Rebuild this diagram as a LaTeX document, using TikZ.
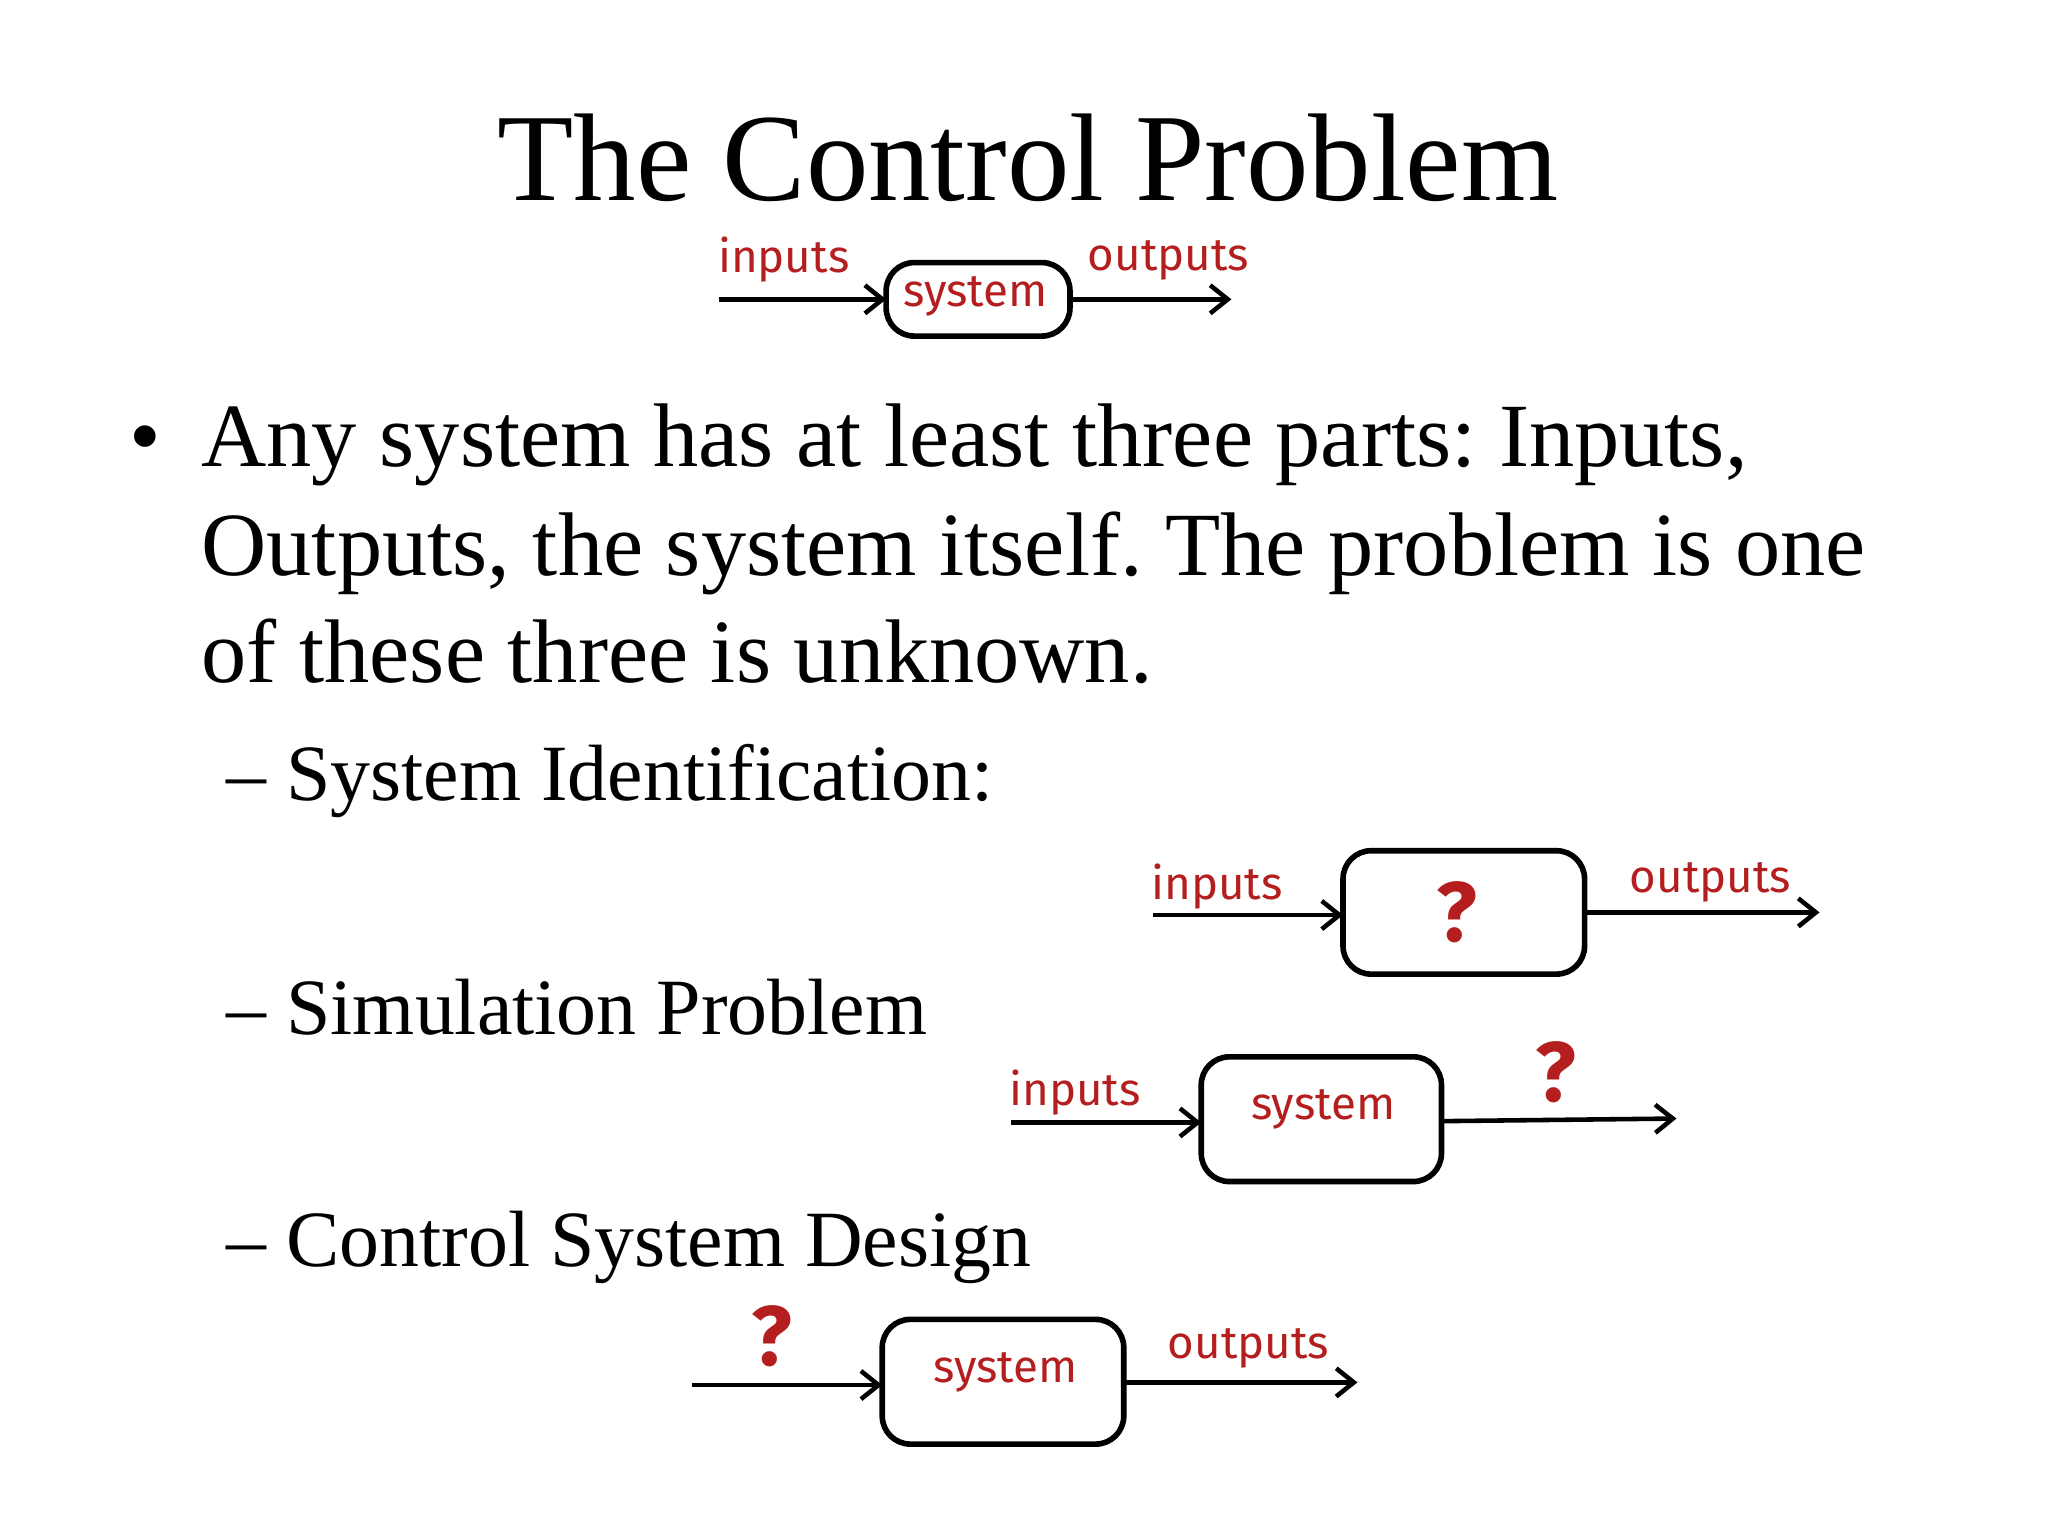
\documentclass[tikz,border=0pt]{standalone}
\usepackage{fontspec}
\setmainfont{Liberation Serif}
\newfontfamily\handfont{Fira Sans}
\usetikzlibrary{arrows.meta}
\definecolor{hred}{RGB}{180,30,30}
\frenchspacing
\begin{document}
\begin{tikzpicture}[x=0.01313cm,y=-0.01313cm,
  sysbox/.style={draw,line width=1.6pt,rounded corners=8pt},
  arr/.style={-{Straight Barb[length=5pt,width=8pt]},line width=1.3pt},
  hw/.style={text=hred,font=\handfont\fontsize{13}{13}\selectfont},
  hwq/.style={text=hred,font=\handfont\bfseries\fontsize{24}{24}\selectfont},
  body/.style={anchor=base west,inner sep=0pt,font=\fontsize{25.7}{28}\selectfont},
  subbody/.style={anchor=base west,inner sep=0pt,font=\fontsize{22.7}{25}\selectfont}]
\useasboundingbox (0,0) rectangle (1560,1170);
\node[font=\fontsize{35.5}{36}\selectfont] (title) at (783,120) {The Control Problem};
% diagram 1
\draw[sysbox] (675,200) rectangle (815,256);
\node[hw] (s1) at (743,226) {system};
\node[hw] (i1) at (597,198) {inputs};
\node[hw] (o1) at (890,198) {outputs};
\coordinate (a1) at (548,228); \coordinate (b1) at (675,228);
\coordinate (c1) at (815,228); \coordinate (d1) at (938,228);
\draw[arr] (a1) -- (b1); \draw[arr] (c1) -- (d1);
% bullets
\node[body] (bul) at (98,355) {•};
\node[body] (l1) at (153,355) {Any system has at least three parts: Inputs,};
\node[body] (l2) at (153,438) {Outputs, the system itself. The problem is one};
\node[body] (l3) at (153,520) {of these three is unknown.};
\node[subbody] (sA) at (172,610) {– System Identification:};
\node[subbody] (sB) at (172,788) {– Simulation Problem};
\node[subbody] (sC) at (172,965) {– Control System Design};
% diagram 2
\draw[sysbox] (1023,648) rectangle (1207,742);
\node[hwq] (q2) at (1110,695) {?};
\node[hw] (i2) at (927,675) {inputs};
\node[hw] (o2) at (1303,672) {outputs};
\coordinate (a2) at (878,697); \coordinate (b2) at (1023,697);
\coordinate (c2) at (1207,695); \coordinate (d2) at (1386,695);
\draw[arr] (a2) -- (b2); \draw[arr] (c2) -- (d2);
% diagram 3
\draw[sysbox] (915,805) rectangle (1098,900);
\node[hw] (s3) at (1008,845) {system};
\node[hw] (i3) at (819,832) {inputs};
\node[hwq] (q3) at (1185,817) {?};
\coordinate (a3) at (770,855); \coordinate (b3) at (915,855);
\coordinate (c3) at (1098,854); \coordinate (d3) at (1277,852);
\draw[arr] (a3) -- (b3); \draw[arr] (c3) -- (d3);
% diagram 4
\draw[sysbox] (672,1005) rectangle (856,1100);
\node[hw] (s4) at (766,1045) {system};
\node[hwq] (q4) at (588,1018) {?};
\node[hw] (o4) at (951,1027) {outputs};
\coordinate (a4) at (527,1055); \coordinate (b4) at (672,1055);
\coordinate (c4) at (856,1053); \coordinate (d4) at (1034,1053);
\draw[arr] (a4) -- (b4); \draw[arr] (c4) -- (d4);
\end{tikzpicture}
\end{document}
